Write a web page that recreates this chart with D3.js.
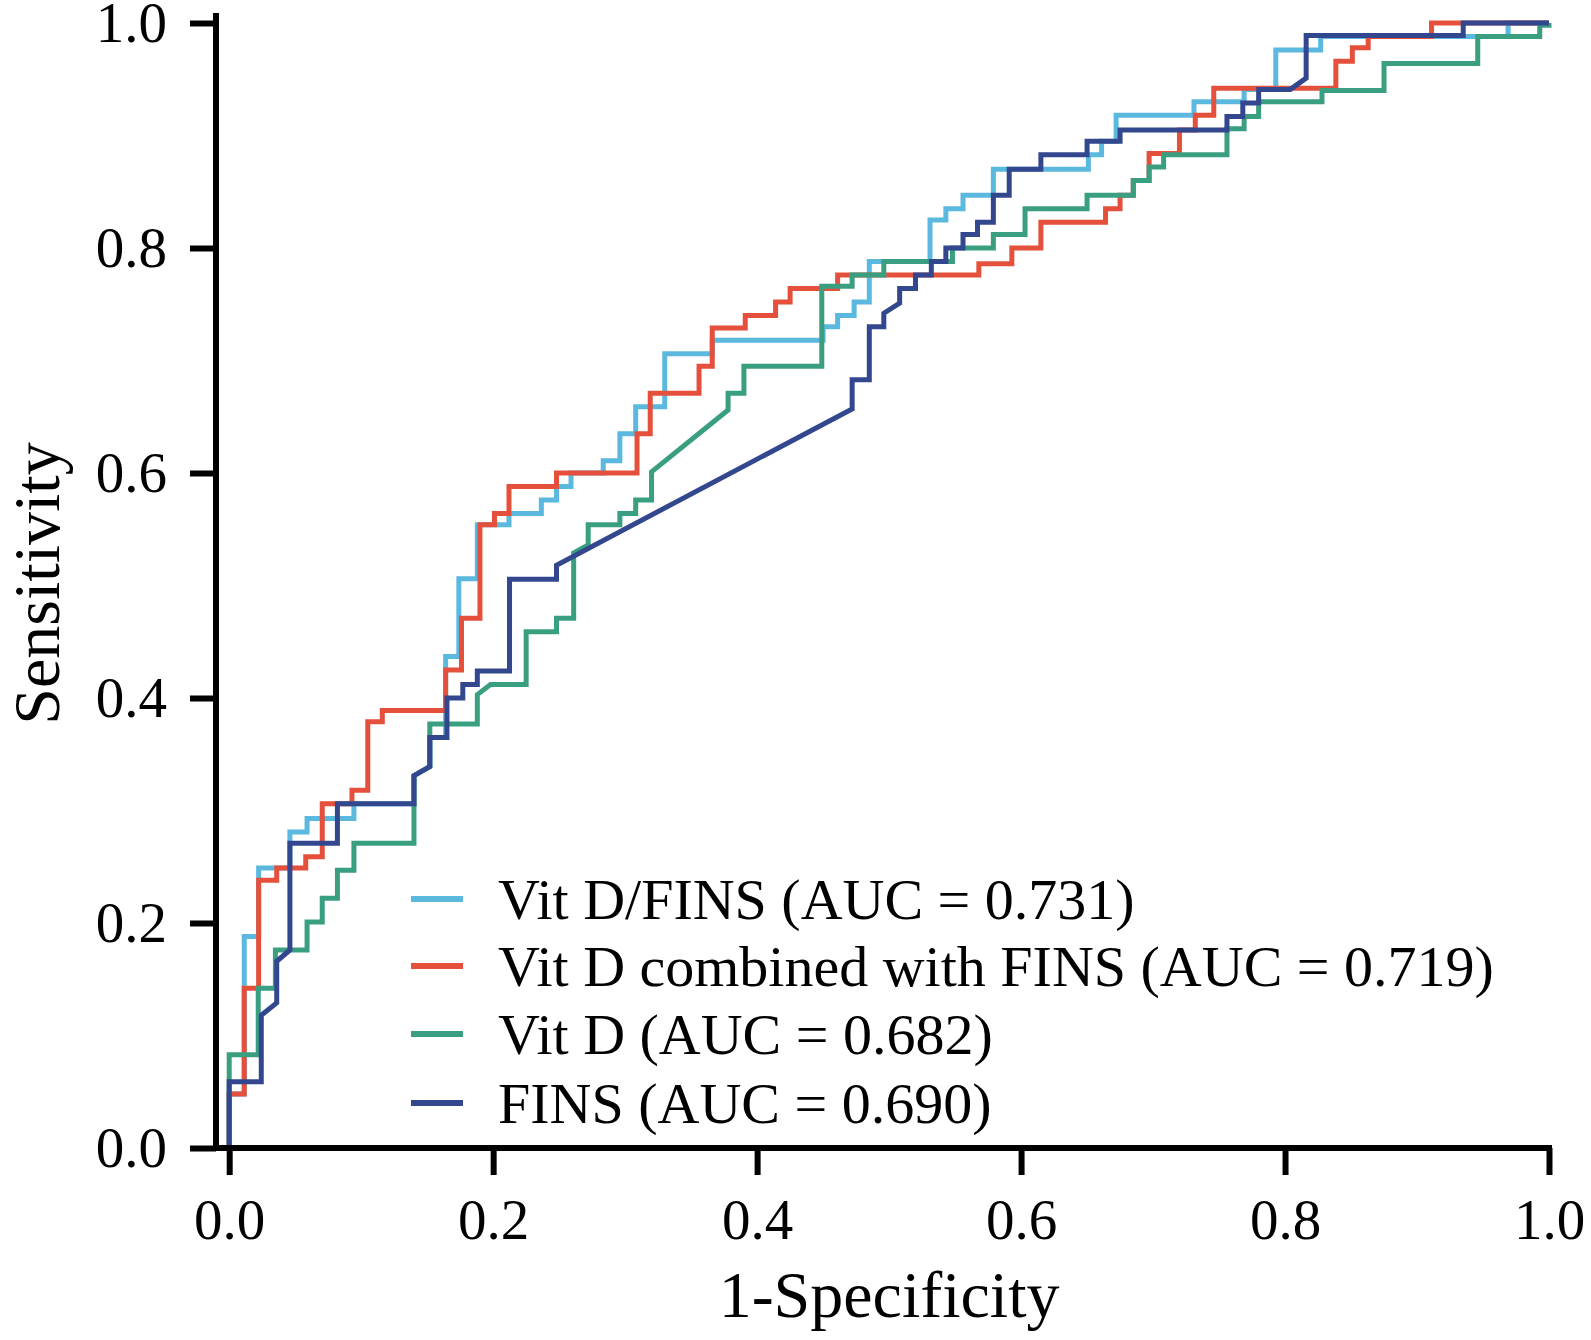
<!DOCTYPE html>
<html>
<head>
<meta charset="utf-8">
<script src="https://cdn.jsdelivr.net/npm/d3@7/dist/d3.min.js"></script>
<style>
  html, body { margin: 0; padding: 0; background: #fff; }
  svg { display: block; }
  text { font-family: "Liberation Serif", "Times New Roman", serif; fill: #000; }
</style>
</head>
<body>
<svg id="chart" width="1591" height="1340"></svg>
<script>
// ---- data (1-specificity, sensitivity) ----
const tickValues = [0, 0.2, 0.4, 0.6, 0.8, 1.0];
const tickLabels = ["0.0", "0.2", "0.4", "0.6", "0.8", "1.0"];

const seriesNames = [
  "Vit D/FINS (AUC = 0.731)",
  "Vit D combined with FINS (AUC = 0.719)",
  "Vit D (AUC = 0.682)",
  "FINS (AUC = 0.690)"
];
const seriesColors = ["#5bb8de", "#e4503b", "#3a9f80", "#33478f"];

const vitDFins = [
  [0,0],[0,0.048],[0.0114,0.048],[0.0114,0.188],[0.0223,0.188],[0.0223,0.249],
  [0.046,0.249],[0.046,0.281],[0.059,0.281],[0.059,0.293],[0.0945,0.293],[0.0945,0.306],
  [0.140,0.306],[0.140,0.331],[0.152,0.339],[0.152,0.365],[0.164,0.365],[0.164,0.437],
  [0.174,0.437],[0.174,0.506],[0.188,0.506],[0.188,0.554],[0.212,0.554],[0.212,0.564],
  [0.2365,0.564],[0.2365,0.576],[0.248,0.576],[0.248,0.588],[0.259,0.588],[0.259,0.600],
  [0.2834,0.600],[0.2834,0.611],[0.296,0.611],[0.296,0.635],[0.308,0.635],[0.308,0.659],
  [0.330,0.659],[0.330,0.706],[0.366,0.706],[0.366,0.718],[0.450,0.718],[0.450,0.730],
  [0.461,0.730],[0.461,0.740],[0.4735,0.740],[0.4735,0.752],[0.485,0.752],[0.485,0.788],
  [0.531,0.788],[0.531,0.825],[0.543,0.825],[0.543,0.835],[0.556,0.835],[0.556,0.847],
  [0.579,0.847],[0.579,0.870],[0.651,0.870],[0.651,0.883],[0.661,0.883],[0.661,0.895],
  [0.672,0.895],[0.672,0.918],[0.731,0.918],[0.731,0.930],[0.769,0.930],[0.769,0.941],
  [0.793,0.941],[0.793,0.976],[0.827,0.976],[0.827,0.988],[0.969,0.988],[0.969,1.0],[1,1]
];

const vitDCombined = [
  [0,0],[0,0.048],[0.0114,0.048],[0.0114,0.142],[0.0223,0.142],[0.0223,0.238],
  [0.036,0.238],[0.036,0.249],[0.058,0.249],[0.058,0.259],[0.0705,0.259],[0.0705,0.306],
  [0.093,0.306],[0.093,0.318],[0.105,0.318],[0.105,0.379],[0.116,0.379],[0.116,0.389],
  [0.164,0.389],[0.164,0.425],[0.176,0.425],[0.176,0.471],[0.190,0.471],[0.190,0.554],
  [0.201,0.554],[0.201,0.564],[0.212,0.564],[0.212,0.588],[0.248,0.588],[0.248,0.600],
  [0.309,0.600],[0.309,0.635],[0.319,0.635],[0.319,0.671],[0.356,0.671],[0.356,0.695],
  [0.366,0.695],[0.366,0.729],[0.391,0.729],[0.391,0.740],[0.414,0.740],[0.414,0.752],
  [0.425,0.752],[0.425,0.764],[0.461,0.764],[0.461,0.776],[0.568,0.776],[0.568,0.786],
  [0.593,0.786],[0.593,0.800],[0.615,0.800],[0.615,0.823],[0.664,0.823],[0.664,0.835],
  [0.675,0.835],[0.675,0.847],[0.685,0.847],[0.685,0.860],[0.697,0.860],[0.697,0.884],
  [0.720,0.884],[0.720,0.905],[0.732,0.905],[0.732,0.918],[0.746,0.918],[0.746,0.942],
  [0.8385,0.942],[0.8385,0.966],[0.851,0.966],[0.851,0.978],[0.863,0.978],[0.863,0.988],
  [0.911,0.988],[0.911,1.0],[1,1]
];

const vitD = [
  [0,0],[0,0.083],[0.022,0.083],[0.022,0.142],[0.035,0.142],[0.035,0.176],
  [0.059,0.176],[0.059,0.201],[0.0705,0.201],[0.0705,0.222],[0.082,0.222],[0.082,0.247],
  [0.0945,0.247],[0.0945,0.271],[0.140,0.271],[0.140,0.331],[0.152,0.339],[0.152,0.377],
  [0.188,0.377],[0.188,0.403],[0.198,0.412],[0.225,0.412],[0.225,0.459],[0.248,0.459],
  [0.248,0.471],[0.261,0.471],[0.261,0.529],[0.272,0.536],[0.272,0.554],[0.296,0.554],
  [0.296,0.564],[0.308,0.564],[0.308,0.576],[0.320,0.576],[0.320,0.601],[0.378,0.656],
  [0.378,0.671],[0.390,0.671],[0.390,0.695],[0.449,0.695],[0.449,0.766],[0.472,0.766],
  [0.472,0.776],[0.496,0.776],[0.496,0.788],[0.548,0.788],[0.548,0.800],[0.579,0.800],
  [0.579,0.812],[0.603,0.812],[0.603,0.835],[0.650,0.835],[0.650,0.847],[0.685,0.847],
  [0.685,0.860],[0.697,0.860],[0.697,0.872],[0.708,0.872],[0.708,0.883],[0.756,0.883],
  [0.756,0.906],[0.769,0.906],[0.769,0.917],[0.780,0.917],[0.780,0.930],[0.828,0.930],
  [0.828,0.940],[0.875,0.940],[0.875,0.964],[0.946,0.964],[0.946,0.988],[0.993,0.988],
  [0.993,0.998],[1,0.998],[1,1]
];

const fins = [
  [0,0],[0,0.059],[0.0243,0.059],[0.0243,0.118],[0.036,0.129],[0.036,0.166],
  [0.046,0.176],[0.046,0.271],[0.082,0.271],[0.082,0.306],[0.140,0.306],[0.140,0.331],
  [0.152,0.339],[0.152,0.365],[0.165,0.365],[0.165,0.400],[0.177,0.400],[0.177,0.412],
  [0.188,0.412],[0.188,0.424],[0.2124,0.424],[0.2124,0.5055],[0.248,0.5055],[0.248,0.518],
  [0.472,0.657],[0.472,0.683],[0.485,0.683],[0.485,0.730],[0.496,0.730],[0.496,0.742],
  [0.508,0.751],[0.508,0.764],[0.520,0.764],[0.520,0.776],[0.532,0.776],[0.532,0.788],
  [0.543,0.788],[0.543,0.800],[0.556,0.800],[0.556,0.812],[0.567,0.812],[0.567,0.823],
  [0.579,0.823],[0.579,0.847],[0.591,0.847],[0.591,0.870],[0.615,0.870],[0.615,0.883],
  [0.650,0.883],[0.650,0.895],[0.675,0.895],[0.675,0.905],[0.756,0.905],[0.756,0.917],
  [0.768,0.917],[0.768,0.929],[0.780,0.929],[0.780,0.941],[0.804,0.941],[0.816,0.951],
  [0.816,0.989],[0.935,0.989],[0.935,1.0],[1,1]
];

const allSeries = [vitDFins, vitDCombined, vitD, fins];

// ---- drawing ----
const svg = d3.select("#chart");
const x = d3.scaleLinear().domain([-0.01, 1]).range([216, 1549]);
const y = d3.scaleLinear().domain([0, 1]).range([1148, 23]);

const fontSize = 57;

// curves
const line = d3.line().x(d => x(d[0])).y(d => y(d[1])).curve(d3.curveLinear);
svg.append("g").selectAll("path")
  .data(allSeries)
  .join("path")
  .attr("d", d => line(d))
  .attr("fill", "none")
  .attr("stroke", (d, i) => seriesColors[i])
  .attr("stroke-width", 5)
  .attr("stroke-linejoin", "miter")
  .attr("stroke-linecap", "butt");

// axes
const yAxis = d3.axisLeft(y).tickValues(tickValues)
  .tickFormat((d, i) => tickLabels[i]).tickSize(26).tickPadding(23).tickSizeOuter(0);
const gy = svg.append("g").attr("transform", `translate(${x(-0.01)},0)`).call(yAxis);
gy.select(".domain").remove();
gy.selectAll(".tick line").attr("stroke", "#000").attr("stroke-width", 6);
gy.selectAll(".tick text").attr("font-size", fontSize)
  .style("font-family", '"Liberation Serif", "Times New Roman", serif');

const xAxis = d3.axisBottom(x).tickValues(tickValues)
  .tickFormat((d, i) => tickLabels[i]).tickSize(27).tickPadding(24).tickSizeOuter(0);
const gx = svg.append("g").attr("transform", `translate(0,${y(0)})`).call(xAxis);
gx.select(".domain").remove();
gx.selectAll(".tick line").attr("stroke", "#000").attr("stroke-width", 6);
gx.selectAll(".tick text").attr("font-size", fontSize)
  .style("font-family", '"Liberation Serif", "Times New Roman", serif');

// axis lines
svg.append("line")
  .attr("x1", x(-0.01)).attr("x2", x(-0.01))
  .attr("y1", y(1) - 10).attr("y2", y(0) + 3)
  .attr("stroke", "#000").attr("stroke-width", 6);
svg.append("line")
  .attr("x1", x(-0.01)).attr("x2", x(1) + 3)
  .attr("y1", y(0)).attr("y2", y(0))
  .attr("stroke", "#000").attr("stroke-width", 6);

// axis titles
svg.append("text")
  .attr("x", (x(0) + x(1)) / 2).attr("y", 1317)
  .attr("text-anchor", "middle").attr("font-size", 66)
  .text("1-Specificity");
svg.append("text")
  .attr("transform", `translate(59,${(y(0) + y(1)) / 2 - 2}) rotate(-90)`)
  .attr("text-anchor", "middle").attr("font-size", 66)
  .text("Sensitivity");

// legend
const legendY = [899, 966, 1034, 1103];
const lg = svg.append("g");
seriesNames.forEach((name, i) => {
  lg.append("line")
    .attr("x1", 411).attr("x2", 463)
    .attr("y1", legendY[i]).attr("y2", legendY[i])
    .attr("stroke", seriesColors[i]).attr("stroke-width", 6);
  lg.append("text")
    .attr("x", 498).attr("y", legendY[i] + 20)
    .attr("font-size", 58)
    .text(name);
});
</script>
</body>
</html>
